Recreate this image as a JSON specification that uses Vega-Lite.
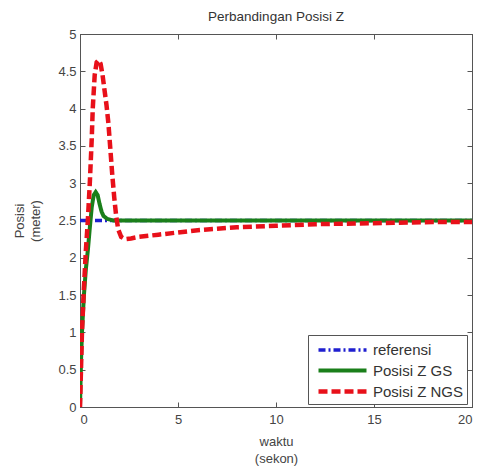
{
  "$schema": "https://vega.github.io/schema/vega-lite/v6.json",
  "width": 392,
  "height": 373,
  "autosize": {"type": "none"},
  "padding": {"left": 80, "top": 34, "right": 9, "bottom": 59},
  "background": "white",
  "title": {"text": "Perbandingan Posisi Z", "font": "Liberation Sans", "fontSize": 13.5, "fontWeight": "normal", "color": "#333", "offset": 5},
  "config": {
    "view": {"stroke": "#555", "strokeWidth": 1},
    "axis": {"labelFont": "Liberation Sans", "labelFontSize": 13, "labelColor": "#444", "titleFont": "Liberation Sans", "titleFontSize": 13, "titleFontWeight": "normal", "titleColor": "#444", "tickColor": "#555", "domainColor": "#555", "grid": false, "tickSize": -5, "labelExpr": "datum.value"},
    "legend": {"labelFont": "Liberation Sans", "labelFontSize": 15, "labelColor": "#333"}
  },
  "data": {"values": [
    {"t": 0, "z": 2.5, "s": "referensi"},
    {"t": 20, "z": 2.5, "s": "referensi"},
    {"t": 0, "z": 0, "s": "Posisi Z GS"},
    {"t": 0.05, "z": 0.6, "s": "Posisi Z GS"},
    {"t": 0.1, "z": 1.0, "s": "Posisi Z GS"},
    {"t": 0.2, "z": 1.5, "s": "Posisi Z GS"},
    {"t": 0.3, "z": 1.85, "s": "Posisi Z GS"},
    {"t": 0.4, "z": 2.1, "s": "Posisi Z GS"},
    {"t": 0.5, "z": 2.4, "s": "Posisi Z GS"},
    {"t": 0.6, "z": 2.68, "s": "Posisi Z GS"},
    {"t": 0.7, "z": 2.84, "s": "Posisi Z GS"},
    {"t": 0.8, "z": 2.88, "s": "Posisi Z GS"},
    {"t": 0.9, "z": 2.84, "s": "Posisi Z GS"},
    {"t": 1.0, "z": 2.72, "s": "Posisi Z GS"},
    {"t": 1.1, "z": 2.62, "s": "Posisi Z GS"},
    {"t": 1.2, "z": 2.56, "s": "Posisi Z GS"},
    {"t": 1.4, "z": 2.52, "s": "Posisi Z GS"},
    {"t": 1.7, "z": 2.5, "s": "Posisi Z GS"},
    {"t": 20, "z": 2.5, "s": "Posisi Z GS"},
    {"t": 0, "z": 0, "s": "Posisi Z NGS"},
    {"t": 0.1, "z": 1.0, "s": "Posisi Z NGS"},
    {"t": 0.2, "z": 1.6, "s": "Posisi Z NGS"},
    {"t": 0.3, "z": 2.1, "s": "Posisi Z NGS"},
    {"t": 0.4, "z": 2.5, "s": "Posisi Z NGS"},
    {"t": 0.5, "z": 3.0, "s": "Posisi Z NGS"},
    {"t": 0.6, "z": 3.6, "s": "Posisi Z NGS"},
    {"t": 0.65, "z": 4.0, "s": "Posisi Z NGS"},
    {"t": 0.75, "z": 4.45, "s": "Posisi Z NGS"},
    {"t": 0.85, "z": 4.62, "s": "Posisi Z NGS"},
    {"t": 0.95, "z": 4.65, "s": "Posisi Z NGS"},
    {"t": 1.05, "z": 4.6, "s": "Posisi Z NGS"},
    {"t": 1.15, "z": 4.45, "s": "Posisi Z NGS"},
    {"t": 1.25, "z": 4.25, "s": "Posisi Z NGS"},
    {"t": 1.35, "z": 4.05, "s": "Posisi Z NGS"},
    {"t": 1.45, "z": 3.8, "s": "Posisi Z NGS"},
    {"t": 1.55, "z": 3.45, "s": "Posisi Z NGS"},
    {"t": 1.65, "z": 3.1, "s": "Posisi Z NGS"},
    {"t": 1.75, "z": 2.8, "s": "Posisi Z NGS"},
    {"t": 1.85, "z": 2.55, "s": "Posisi Z NGS"},
    {"t": 1.95, "z": 2.38, "s": "Posisi Z NGS"},
    {"t": 2.1, "z": 2.28, "s": "Posisi Z NGS"},
    {"t": 2.3, "z": 2.25, "s": "Posisi Z NGS"},
    {"t": 2.6, "z": 2.26, "s": "Posisi Z NGS"},
    {"t": 3, "z": 2.28, "s": "Posisi Z NGS"},
    {"t": 4, "z": 2.31, "s": "Posisi Z NGS"},
    {"t": 5, "z": 2.34, "s": "Posisi Z NGS"},
    {"t": 6, "z": 2.37, "s": "Posisi Z NGS"},
    {"t": 7, "z": 2.39, "s": "Posisi Z NGS"},
    {"t": 8, "z": 2.41, "s": "Posisi Z NGS"},
    {"t": 10, "z": 2.43, "s": "Posisi Z NGS"},
    {"t": 12, "z": 2.45, "s": "Posisi Z NGS"},
    {"t": 14, "z": 2.46, "s": "Posisi Z NGS"},
    {"t": 16, "z": 2.47, "s": "Posisi Z NGS"},
    {"t": 18, "z": 2.48, "s": "Posisi Z NGS"},
    {"t": 20, "z": 2.48, "s": "Posisi Z NGS"}
  ]},
  "layer": [
    {
      "mark": {"type": "line", "strokeCap": "butt", "clip": true},
      "encoding": {
        "x": {"field": "t", "type": "quantitative", "scale": {"domain": [0, 20], "nice": false}, "axis": {"values": [0, 5, 10, 15, 20], "labelPadding": 11, "title": ["waktu", "(sekon)"], "titlePadding": 9, "titleLineHeight": 17}},
        "y": {"field": "z", "type": "quantitative", "scale": {"domain": [0, 5], "nice": false}, "axis": {"values": [0, 0.5, 1, 1.5, 2, 2.5, 3, 3.5, 4, 4.5, 5], "labelPadding": 9, "title": ["Posisi", "(meter)"], "titlePadding": 15, "titleLineHeight": 16}},
        "color": {"field": "s", "type": "nominal", "scale": {"domain": ["referensi", "Posisi Z GS", "Posisi Z NGS"], "range": ["#1f1fd0", "#1a7f1a", "#e8101a"]}, "legend": {"title": null, "orient": "none", "legendX": 228, "legendY": 301, "strokeColor": "#555", "fillColor": "white", "padding": 3, "symbolType": "M-2.4,0L2.4,0", "symbolSize": 400, "symbolOffset": 19, "labelOffset": 18, "rowPadding": 0.5}},
        "strokeDash": {"field": "s", "type": "nominal", "scale": {"domain": ["referensi", "Posisi Z GS", "Posisi Z NGS"], "range": [[7, 3, 2, 3], [1, 0], [9, 4]]}, "legend": {"title": null, "orient": "none", "legendX": 228, "legendY": 301, "strokeColor": "#555", "fillColor": "white", "padding": 3, "symbolType": "M-2.4,0L2.4,0", "symbolSize": 400, "symbolOffset": 19, "labelOffset": 18, "rowPadding": 0.5}},
        "strokeWidth": {"field": "s", "type": "nominal", "scale": {"domain": ["referensi", "Posisi Z GS", "Posisi Z NGS"], "range": [3.5, 4.5, 5]}, "legend": {"title": null, "orient": "none", "legendX": 228, "legendY": 301, "strokeColor": "#555", "fillColor": "white", "padding": 3, "symbolType": "M-2.4,0L2.4,0", "symbolSize": 400, "symbolOffset": 19, "labelOffset": 18, "rowPadding": 0.5}}
      }
    },
    {
      "mark": {"type": "line", "opacity": 0},
      "encoding": {
        "x": {"field": "t", "type": "quantitative", "scale": {"domain": [0, 20], "nice": false}, "axis": {"orient": "top", "values": [0, 5, 10, 15, 20], "labels": false, "title": null}},
        "y": {"field": "z", "type": "quantitative", "scale": {"domain": [0, 5], "nice": false}, "axis": {"orient": "right", "values": [0, 0.5, 1, 1.5, 2, 2.5, 3, 3.5, 4, 4.5, 5], "labels": false, "title": null}}
      }
    }
  ],
  "resolve": {"axis": {"x": "independent", "y": "independent"}}
}
